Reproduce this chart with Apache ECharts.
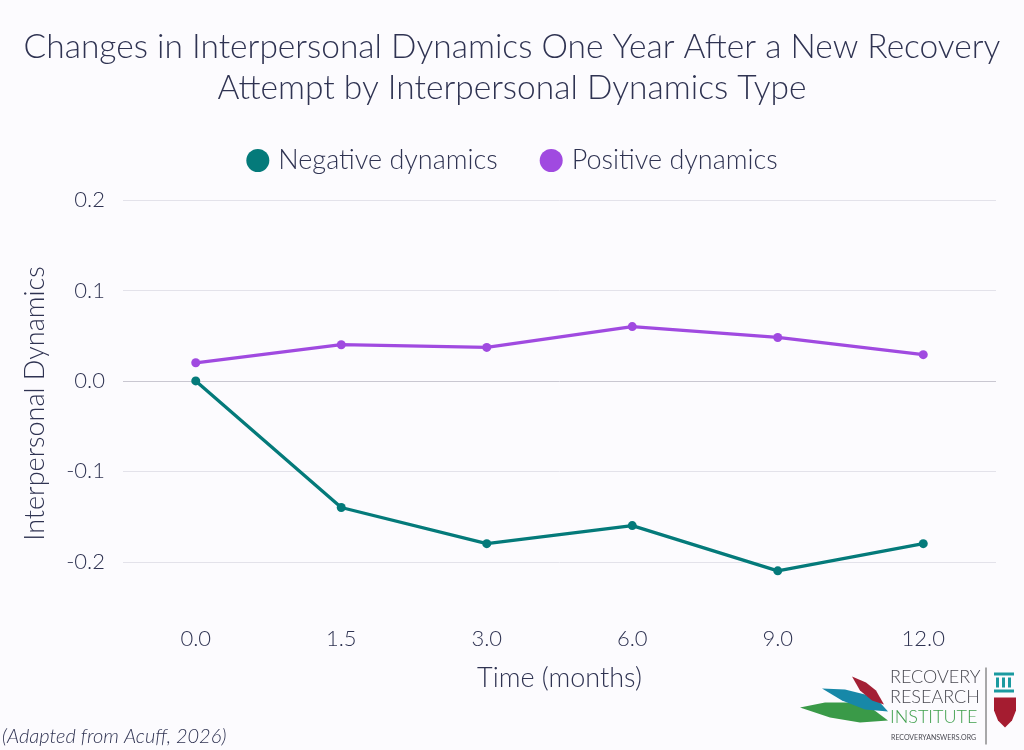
<!DOCTYPE html>
<html>
<head>
<meta charset="utf-8">
<script src="https://cdn.jsdelivr.net/npm/echarts@6/dist/echarts.min.js"></script>
<style>
  html, body { margin: 0; padding: 0; background: #fcfbfe; }
  #chart { width: 1024px; height: 750px; }
</style>
</head>
<body>
<div id="chart"></div>
<script>
// 数据
var months = ['0.0', '1.5', '3.0', '6.0', '9.0', '12.0'];
var negativeDynamics = [0.0, -0.14, -0.18, -0.16, -0.21, -0.18];
var positiveDynamics = [0.02, 0.04, 0.037, 0.06, 0.048, 0.029];
var yTicks = [-0.2, -0.1, 0.0, 0.1, 0.2];

var textColor = '#2f3352';
var fontName = 'Lato, "Noto Sans", sans-serif';

var myChart = echarts.init(document.getElementById('chart'));

// 网格线颜色：-0.25 起每 0.05 一条，只显示 0.1 的倍数
var gridColors = [];
for (var i = 0; i < 10; i++) {
    var v = Math.round((-0.25 + i * 0.05) * 100) / 100;
    if (v === 0) {
        gridColors.push('#c9c7d1');
    } else if (yTicks.indexOf(v) >= 0) {
        gridColors.push('#e3e2ea');
    } else {
        gridColors.push('rgba(0,0,0,0)');
    }
}

var option = {
    backgroundColor: '#fcfbfe',
    textStyle: { fontFamily: fontName, color: textColor },
    title: {
        text: 'Changes in Interpersonal Dynamics One Year After a New Recovery\nAttempt by Interpersonal Dynamics Type',
        left: 'center',
        top: 22,
        textStyle: {
            fontFamily: fontName,
            fontWeight: 300,
            fontSize: 33.5,
            lineHeight: 41,
            color: textColor
        }
    },
    legend: {
        top: 142,
        left: 'center',
        itemGap: 42,
        itemWidth: 23,
        itemHeight: 23,
        icon: 'circle',
        textStyle: { fontSize: 27, fontWeight: 300, color: textColor, fontFamily: fontName, padding: [0, 0, 0, 4] },
        data: ['Negative dynamics', 'Positive dynamics']
    },
    grid: {
        left: 123,
        right: 28,
        top: 200,
        bottom: 143
    },
    xAxis: {
        type: 'category',
        data: months,
        boundaryGap: true,
        name: 'Time (months)',
        nameLocation: 'middle',
        nameGap: 58,
        nameTextStyle: { fontSize: 27, fontWeight: 300, color: textColor, fontFamily: fontName },
        axisLine: { show: false },
        axisTick: { show: false },
        axisLabel: { fontSize: 22, fontWeight: 300, color: textColor, margin: 21, fontFamily: fontName }
    },
    yAxis: {
        type: 'value',
        min: -0.25,
        max: 0.2,
        interval: 0.05,
        name: 'Interpersonal Dynamics',
        nameLocation: 'middle',
        nameGap: 74,
        nameTextStyle: { fontSize: 27, fontWeight: 300, color: textColor, fontFamily: fontName },
        axisLine: { show: false },
        axisTick: { show: false },
        axisLabel: {
            fontSize: 22,
            fontWeight: 300,
            color: textColor,
            margin: 18,
            fontFamily: fontName,
            formatter: function (value) {
                var v = Math.round(value * 100) / 100;
                if (yTicks.indexOf(v) < 0) return '';
                return v.toFixed(1);
            }
        },
        splitLine: { show: true, lineStyle: { color: gridColors, width: 1 } }
    },
    series: [
        {
            name: 'Negative dynamics',
            type: 'line',
            data: negativeDynamics,
            color: '#047a7a',
            symbol: 'circle',
            symbolSize: 9,
            lineStyle: { width: 3.3 },
            z: 3
        },
        {
            name: 'Positive dynamics',
            type: 'line',
            data: positiveDynamics,
            color: '#a04ae0',
            symbol: 'circle',
            symbolSize: 9,
            lineStyle: { width: 3.3 },
            z: 3
        }
    ],
    graphic: [
        {
            type: 'text',
            left: 2,
            top: 727,
            style: {
                text: '(Adapted from Acuff, 2026)',
                font: 'italic 300 20px ' + fontName,
                fill: textColor
            }
        },
        // logo
        {
            type: 'group',
            left: 800,
            top: 665,
            children: [
                { type: 'polygon', shape: { points: [[0, 43], [25, 38], [50, 38], [72, 44], [88, 56], [60, 58], [30, 53]] }, style: { fill: '#3a9a48' } },
                { type: 'polygon', shape: { points: [[22, 24], [45, 25], [65, 30], [80, 38], [88, 47], [65, 45], [42, 36]] }, style: { fill: '#1788a8' } },
                { type: 'polygon', shape: { points: [[52, 12], [66, 18], [76, 26], [84, 40], [72, 36], [60, 26]] }, style: { fill: '#a32035' } },
                { type: 'text', x: 90, y: 4, style: { text: 'RECOVERY', font: '300 18px ' + fontName, fill: '#4a4a52' } },
                { type: 'text', x: 90, y: 24, style: { text: 'RESEARCH', font: '300 18px ' + fontName, fill: '#4a4a52' } },
                { type: 'text', x: 90, y: 44, style: { text: 'INSTITUTE', font: '300 18px ' + fontName, fill: '#3f9f4c' } },
                { type: 'text', x: 91, y: 70, style: { text: 'RECOVERYANSWERS.ORG', font: '7px ' + fontName, fill: '#4a4a52' } },
                { type: 'line', shape: { x1: 186, y1: 3, x2: 186, y2: 80 }, style: { stroke: '#555', lineWidth: 1 } },
                { type: 'rect', shape: { x: 194, y: 8, width: 20, height: 3 }, style: { fill: '#1a9aa0' } },
                { type: 'rect', shape: { x: 196, y: 13, width: 3, height: 10 }, style: { fill: '#1a9aa0' } },
                { type: 'rect', shape: { x: 202, y: 13, width: 3, height: 10 }, style: { fill: '#1a9aa0' } },
                { type: 'rect', shape: { x: 208, y: 13, width: 3, height: 10 }, style: { fill: '#1a9aa0' } },
                { type: 'rect', shape: { x: 194, y: 25, width: 20, height: 3 }, style: { fill: '#1a9aa0' } },
                { type: 'polygon', shape: { points: [[194, 33], [216, 33], [216, 46], [212, 56], [205, 63], [198, 56], [194, 46]] }, style: { fill: '#a51c30' } }
            ]
        }
    ]
};

myChart.setOption(option);
</script>
</body>
</html>
